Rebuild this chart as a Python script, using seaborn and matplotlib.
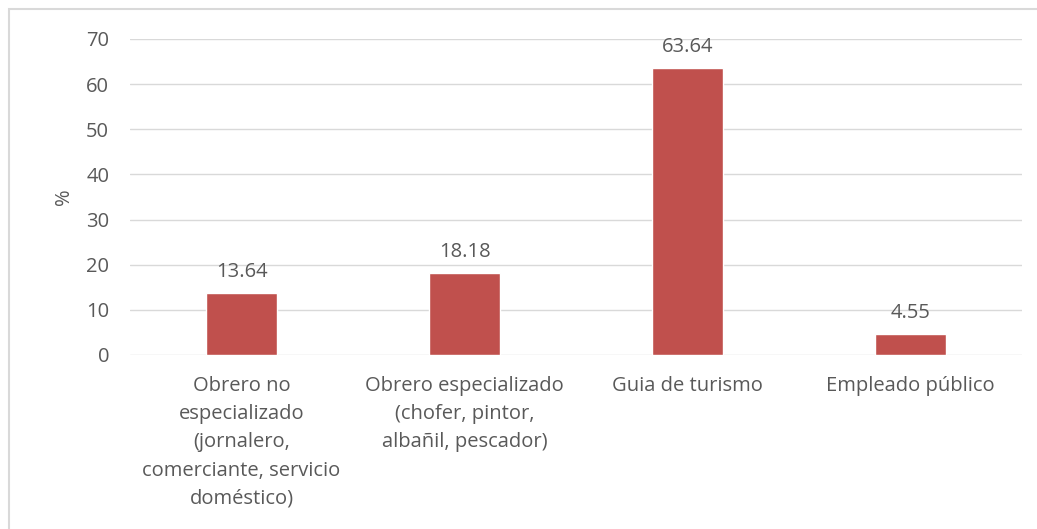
import matplotlib

matplotlib.use("Agg")

import matplotlib.pyplot as plt
from matplotlib.patches import Rectangle
import pandas as pd
import seaborn as sns

categories = [
    "Obrero no\nespecializado\n(jornalero,\ncomerciante, servicio\ndoméstico)",
    "Obrero especializado\n(chofer, pintor,\nalbañil, pescador)",
    "Guia de turismo",
    "Empleado público",
]
values = [13.64, 18.18, 63.64, 4.55]
yticks = [0, 10, 20, 30, 40, 50, 60, 70]

df = pd.DataFrame({"cat": categories, "pct": values})

sns.set_theme(style="white")
plt.rcParams["font.family"] = ["Open Sans", "DejaVu Sans"]
text_color = "#595959"
grid_color = "#d9d9d9"
fs = 14.5

fig = plt.figure(figsize=(10.37, 5.29), dpi=100)
ax = fig.add_axes([130 / 1037, 1 - 355 / 529, 892 / 1037, 316 / 529])

sns.barplot(data=df, x="cat", y="pct", color="#C0504D", width=0.315, saturation=1, ax=ax)

ax.set_ylim(0, 70)
ax.set_yticks(yticks)
ax.set_yticklabels([str(t) for t in yticks], fontsize=fs, color=text_color)
ax.yaxis.grid(True, color=grid_color, linewidth=1)
ax.set_axisbelow(True)
for s in ax.spines.values():
    s.set_visible(False)
ax.tick_params(axis="both", length=0)
ax.tick_params(axis="y", pad=15)
ax.tick_params(axis="x", pad=15)
ax.set_xticks(range(len(categories)))
ax.set_xticklabels(categories, fontsize=fs, color=text_color, linespacing=1.55, va="top")
ax.set_xlabel("")
ax.set_ylabel("%", fontsize=fs, color=text_color, labelpad=9)

for c in ax.containers:
    ax.bar_label(c, labels=[f"{v:.2f}" for v in values], padding=8, fontsize=fs, color=text_color)

fig.patches.append(Rectangle((9 / 1037, -0.05), 1.2, 1 - 9 / 529 + 0.05, transform=fig.transFigure,
                             fill=False, edgecolor="#d9d9d9", linewidth=1.5))

fig.savefig("out.png", dpi=100)
plt.close(fig)
